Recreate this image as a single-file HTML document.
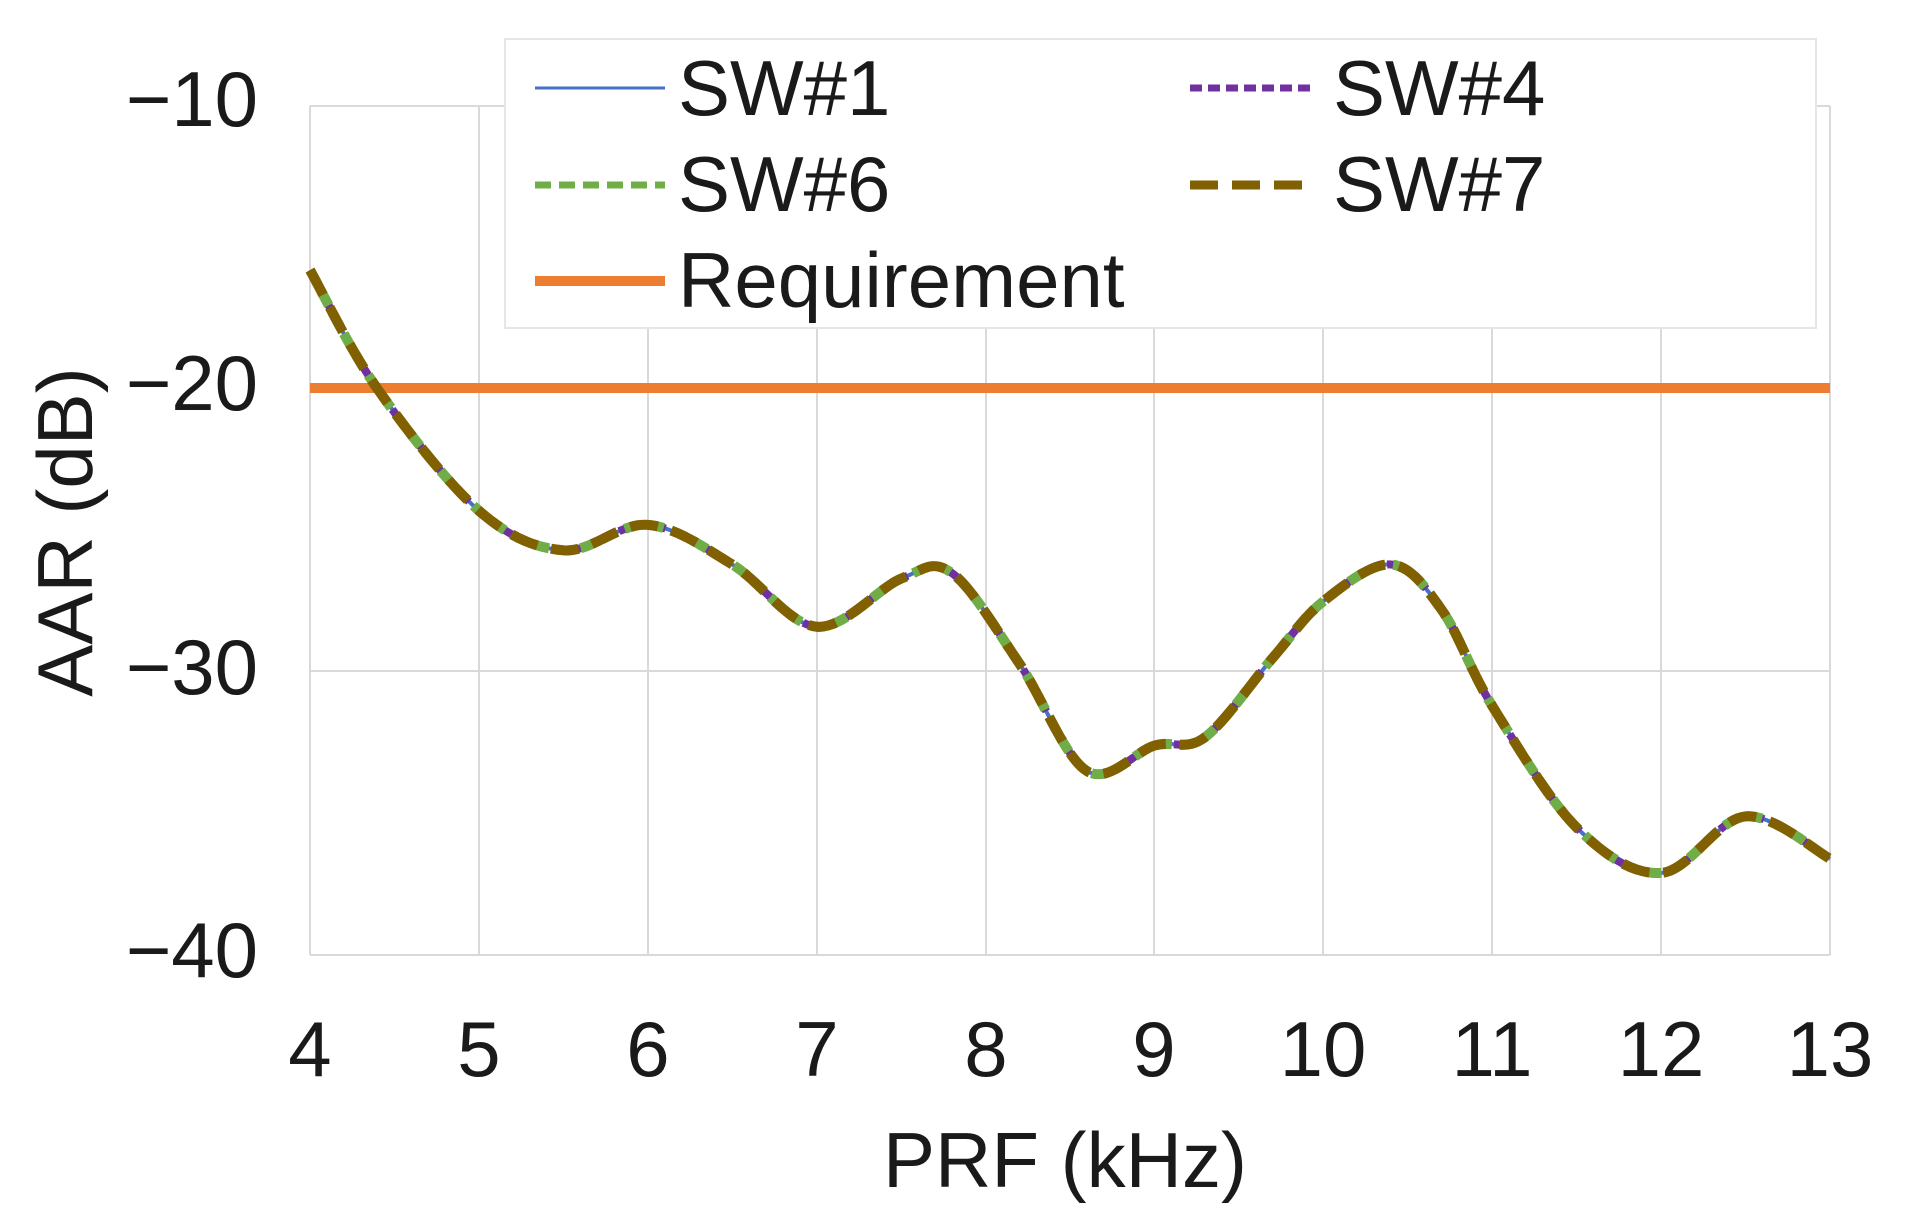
<!DOCTYPE html>
<html><head><meta charset="utf-8"><style>
html,body{margin:0;padding:0;background:#fff;}
svg{display:block;}
text{font-family:"Liberation Sans",sans-serif;fill:#1a1a1a;}
</style></head><body>
<svg id="s" width="1907" height="1228" viewBox="0 0 1907 1228" xmlns="http://www.w3.org/2000/svg">
<g stroke="#d9d9d9" stroke-width="2">
<line x1="310" y1="106" x2="1830" y2="106"/>
<line x1="310" y1="388" x2="1830" y2="388"/>
<line x1="310" y1="671" x2="1830" y2="671"/>
<line x1="310" y1="955" x2="1830" y2="955"/>
<line x1="310" y1="106" x2="310" y2="955"/>
<line x1="479" y1="106" x2="479" y2="955"/>
<line x1="648" y1="106" x2="648" y2="955"/>
<line x1="817" y1="106" x2="817" y2="955"/>
<line x1="986" y1="106" x2="986" y2="955"/>
<line x1="1154" y1="106" x2="1154" y2="955"/>
<line x1="1323" y1="106" x2="1323" y2="955"/>
<line x1="1492" y1="106" x2="1492" y2="955"/>
<line x1="1661" y1="106" x2="1661" y2="955"/>
<line x1="1830" y1="106" x2="1830" y2="955"/>
</g>
<g font-size="78" text-anchor="end">
<text x="258" y="126">−10</text>
<text x="258" y="410">−20</text>
<text x="258" y="694">−30</text>
<text x="258" y="977">−40</text>
</g>
<g font-size="78" text-anchor="middle">
<text x="310" y="1076">4</text><text x="479" y="1076">5</text><text x="648" y="1076">6</text>
<text x="817" y="1076">7</text><text x="986" y="1076">8</text><text x="1154" y="1076">9</text>
<text x="1323" y="1076">10</text><text x="1492" y="1076">11</text><text x="1661" y="1076">12</text>
<text x="1830" y="1076">13</text>
<text x="1065" y="1187">PRF (kHz)</text>
<text transform="translate(92,532) rotate(-90)">AAR (dB)</text>
</g>
<line x1="310" y1="388" x2="1830" y2="388" stroke="#ed7d31" stroke-width="10"/>
<g id="curves" fill="none"></g>
<rect x="505" y="39" width="1311" height="289" fill="#fff" stroke="#e6e6e6" stroke-width="2"/>
<g stroke-width="7">
<line x1="535" y1="88" x2="665" y2="88" stroke="#4472c4" stroke-width="3"/>
<line x1="1190" y1="88" x2="1312" y2="88" stroke="#7030a0" stroke-dasharray="12,6"/>
<line x1="535" y1="185" x2="665" y2="185" stroke="#70ad47" stroke-dasharray="16,8"/>
<line x1="1190" y1="185" x2="1312" y2="185" stroke="#806000" stroke-width="9" stroke-dasharray="28,14"/>
<line x1="535" y1="281" x2="665" y2="281" stroke="#ed7d31" stroke-width="10"/>
</g>
<g font-size="78">
<text x="678" y="115">SW#1</text>
<text x="1333" y="115">SW#4</text>
<text x="678" y="211">SW#6</text>
<text x="1333" y="211">SW#7</text>
<text x="678" y="307">Requirement</text>
</g>
</svg>
<script>
var d=[[4,-15.8],[4.4,-20],[5,-24.3],[5.5,-25.7],[6,-24.8],[6.5,-26.2],[7,-28.4],[7.5,-26.7],[7.8,-26.5],[8.2,-29.7],[8.6,-33.5],[9,-32.6],[9.3,-32.3],[9.7,-29.5],[10,-27.5],[10.4,-26.2],[10.7,-27.8],[11,-31.2],[11.5,-35.5],[12,-37.1],[12.5,-35.1],[13,-36.6]];
function X(v){return 310+(v-4)*168.9}function Y(v){return 106+(-10-v)*28.3}
var p=d.map(function(a){return[X(a[0]),Y(a[1])]});
var s="M"+p[0][0]+","+p[0][1];
for(var i=0;i<p.length-1;i++){var p0=p[i-1]||p[i],p1=p[i],p2=p[i+1],p3=p[i+2]||p2;
s+=" C"+(p1[0]+(p2[0]-p0[0])/6)+","+(p1[1]+(p2[1]-p0[1])/6)+" "+(p2[0]-(p3[0]-p1[0])/6)+","+(p2[1]-(p3[1]-p1[1])/6)+" "+p2[0]+","+p2[1];}
var g=document.getElementById("curves");
[["#4472c4",4,""],["#7030a0",8,"12,6"],["#70ad47",10,"16,8"],["#806000",10,"28,14"]].forEach(function(c){
var e=document.createElementNS("http://www.w3.org/2000/svg","path");e.setAttribute("d",s);e.setAttribute("stroke",c[0]);e.setAttribute("stroke-width",c[1]);if(c[2])e.setAttribute("stroke-dasharray",c[2]);g.appendChild(e);});
</script>
</body></html>
